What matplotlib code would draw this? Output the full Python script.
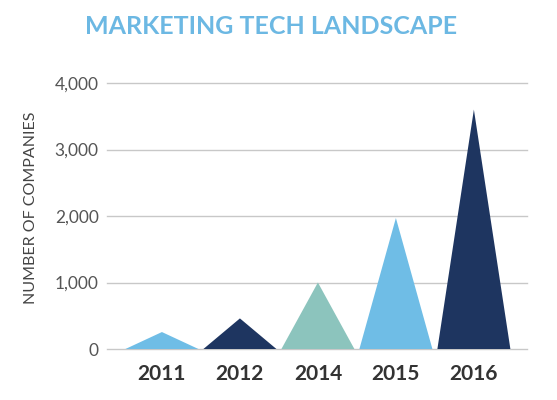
import matplotlib.pyplot as plt

# data
years = ['2011', '2012', '2014', '2015', '2016']
companies = [255, 460, 1000, 1970, 3600]
colors = ['#6fbde6', '#1e3560', '#8cc4bd', '#6fbde6', '#1e3560']
yticks = [0, 1000, 2000, 3000, 4000]

plt.rcParams['font.family'] = ['Lato', 'DejaVu Sans']

fig = plt.figure(figsize=(5.57, 4), dpi=100)
ax = fig.add_axes([0.192, 0.1275, 0.754, 0.665])

half = 0.468
for i, (v, c) in enumerate(zip(companies, colors)):
    ax.fill([i - half, i, i + half], [0, v, 0], color=c, lw=0, zorder=3)

ax.set_xlim(-0.705, 4.68)
ax.set_ylim(0, 4000)
ax.set_yticks(yticks)
ax.set_yticklabels(['{:,}'.format(t) for t in yticks], fontsize=12.5, color='#555555')
ax.set_xticks(range(len(years)))
ax.set_xticklabels(years, fontsize=15, fontweight='bold', color='#333333')
ax.tick_params(axis='y', length=0, pad=6)
ax.tick_params(axis='x', length=0, pad=11)
ax.grid(axis='y', color='#c8c8c8', lw=1, zorder=0)
for ln in ax.get_ygridlines():
    ln.set_clip_on(False)
for s in ax.spines.values():
    s.set_visible(False)

# y-axis title sits left of the tick labels
fig.text(0.055, 0.48, 'NUMBER OF COMPANIES', rotation=90, ha='center', va='center',
         fontsize=11.5, color='#444444')
fig.text(0.487, 0.935, 'MARKETING TECH LANDSCAPE', ha='center', va='center',
         fontsize=18, fontweight='bold', color='#6cb8e3')

fig.savefig('out.png', dpi=100)
